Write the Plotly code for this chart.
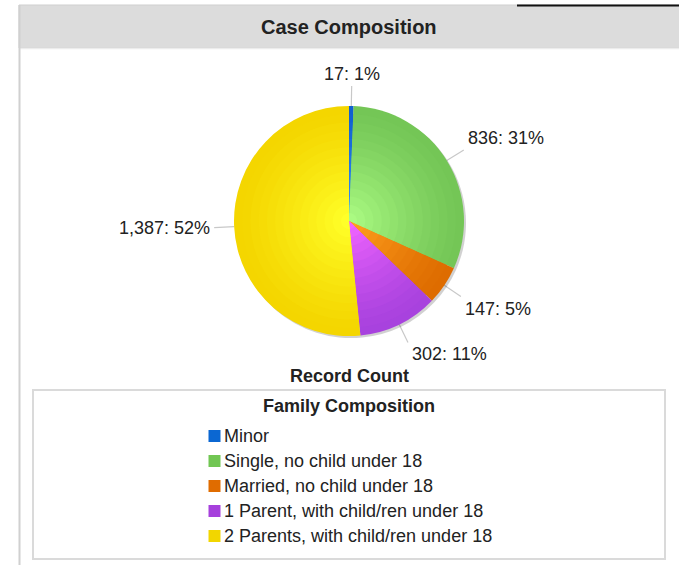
import math
import plotly.graph_objects as go

# ---------------- data ----------------
categories = [
    "Minor",
    "Single, no child under 18",
    "Married, no child under 18",
    "1 Parent, with child/ren under 18",
    "2 Parents, with child/ren under 18",
]
counts = [17, 836, 147, 302, 1387]

chart_title = "Case Composition"
value_title = "Record Count"
legend_title = "Family Composition"

# ---------------- style ----------------
legend_colors = ["#0b67d2", "#71c653", "#e06c00", "#a640dc", "#f2d600"]
outer_colors = [(16, 96, 208), (116, 198, 86), (222, 108, 0), (168, 66, 222), (244, 214, 0)]
inner_colors = [(60, 150, 255), (170, 250, 130), (255, 160, 30), (240, 100, 255), (255, 255, 40)]

W, H = 679, 565
CX, CY, R = 349, 221, 115
FONT = "Liberation Sans, Arial, sans-serif"
TXT = "#222222"

fig = go.Figure()


def domain_for(cx, cy, r):
    return dict(x=[(cx - r) / W, (cx + r) / W], y=[1 - (cy + r) / H, 1 - (cy - r) / H])


def mix(c1, c2, t):
    return "rgb(%d,%d,%d)" % tuple(round(a + (b - a) * t) for a, b in zip(c1, c2))


# soft shadow
fig.add_trace(go.Pie(
    labels=categories, values=counts, sort=False, direction="clockwise",
    marker=dict(colors=["rgba(0,0,0,0.18)"] * len(counts), line=dict(width=0)),
    textinfo="none", hoverinfo="skip", showlegend=False,
    domain=domain_for(CX + 2, CY + 2, R),
))

# layered pies to imitate radial gradient
n_layers = 14
for k in range(n_layers):
    t = k / (n_layers - 1)
    r = R * (1 - 0.93 * t)
    cols = [mix(o, i, t ** 1.3) for o, i in zip(outer_colors, inner_colors)]
    fig.add_trace(go.Pie(
        labels=categories, values=counts, sort=False, direction="clockwise",
        marker=dict(colors=cols, line=dict(width=0)),
        textinfo="none", hoverinfo="label+value+percent" if k == 0 else "skip",
        showlegend=False,
        domain=domain_for(CX, CY, r),
    ))

# ---------------- leader lines + labels ----------------
total = sum(counts)
cum = 0
annotations = []
line_x, line_y = [], []
L = 20
for v in counts:
    mid = (cum + v / 2) / total
    cum += v
    th = math.radians(90 - 360 * mid)
    c, s = math.cos(th), math.sin(th)
    x0, y0 = CX + R * c, CY - R * s
    x1, y1 = CX + (R + L) * c, CY - (R + L) * s
    line_x += [x0, x1, None]
    line_y += [y0, y1, None]
    if c > 0.2:
        xa, tx = "left", x1 + 2
    elif c < -0.2:
        xa, tx = "right", x1 - 2
    else:
        xa, tx = "center", x1
    if s > 0.3:
        ya = "bottom"
    elif s < -0.3:
        ya = "top"
    else:
        ya = "middle"
    pct = round(100 * v / total)
    annotations.append(dict(
        x=tx, y=y1, xref="x", yref="y", xanchor=xa, yanchor=ya,
        text=f"{v:,}: {pct}%", showarrow=False,
        font=dict(family=FONT, size=18, color=TXT),
    ))

fig.add_trace(go.Scatter(
    x=line_x, y=line_y, mode="lines",
    line=dict(color="#c8c8c8", width=1.2),
    hoverinfo="skip", showlegend=False,
))

# ---------------- legend (custom, inside box) ----------------
LEG_X, LEG_Y0, LEG_STEP = 214.5, 436, 25
leg_y = [LEG_Y0 + i * LEG_STEP for i in range(len(categories))]
fig.add_trace(go.Scatter(
    x=[LEG_X] * len(categories), y=leg_y, mode="markers",
    marker=dict(symbol="square", size=12, color=legend_colors, line=dict(width=0)),
    hoverinfo="skip", showlegend=False,
))
for cat, yy in zip(categories, leg_y):
    annotations.append(dict(
        x=LEG_X + 7, y=yy, xref="x", yref="y", xanchor="left", yanchor="middle",
        text=cat, showarrow=False,
        font=dict(family=FONT, size=18, color=TXT),
    ))

# titles
annotations.append(dict(
    x=(19 + W) / 2, y=27, xref="x", yref="y", text=f"<b>{chart_title}</b>",
    showarrow=False, font=dict(family=FONT, size=20, color=TXT),
))
annotations.append(dict(
    x=CX, y=376, xref="x", yref="y", text=f"<b>{value_title}</b>",
    showarrow=False, font=dict(family=FONT, size=18, color=TXT),
))
annotations.append(dict(
    x=CX, y=406, xref="x", yref="y", text=f"<b>{legend_title}</b>",
    showarrow=False, font=dict(family=FONT, size=18, color=TXT),
))

shapes = [
    # header band
    dict(type="rect", xref="x", yref="y", x0=19, x1=W + 2, y0=5, y1=48,
         fillcolor="#dcdcdc", line=dict(color="#cfcfcf", width=1), layer="below"),
    dict(type="line", xref="x", yref="y", x0=19, x1=W, y0=48.5, y1=48.5,
         line=dict(color="#ececec", width=1.5), layer="below"),
    # left panel border
    dict(type="line", xref="x", yref="y", x0=19.5, x1=19.5, y0=5, y1=H,
         line=dict(color="#d0d0d0", width=2), layer="below"),
    # black line top right
    dict(type="line", xref="x", yref="y", x0=517, x1=W, y0=5.5, y1=5.5,
         line=dict(color="#111111", width=2)),
    # legend box
    dict(type="rect", xref="x", yref="y", x0=33, x1=665, y0=390, y1=559,
         fillcolor="rgba(0,0,0,0)", line=dict(color="#dadada", width=2), layer="below"),
]

fig.update_layout(
    width=W, height=H,
    margin=dict(l=0, r=0, t=0, b=0),
    paper_bgcolor="white", plot_bgcolor="rgba(0,0,0,0)",
    xaxis=dict(range=[0, W], visible=False, fixedrange=True),
    yaxis=dict(range=[H, 0], visible=False, fixedrange=True),
    showlegend=False,
    annotations=annotations,
    shapes=shapes,
)

fig.write_html(
    "out.html",
    config={"displayModeBar": False},
    post_script="document.body.style.margin='0';document.body.style.overflow='hidden';",
)
